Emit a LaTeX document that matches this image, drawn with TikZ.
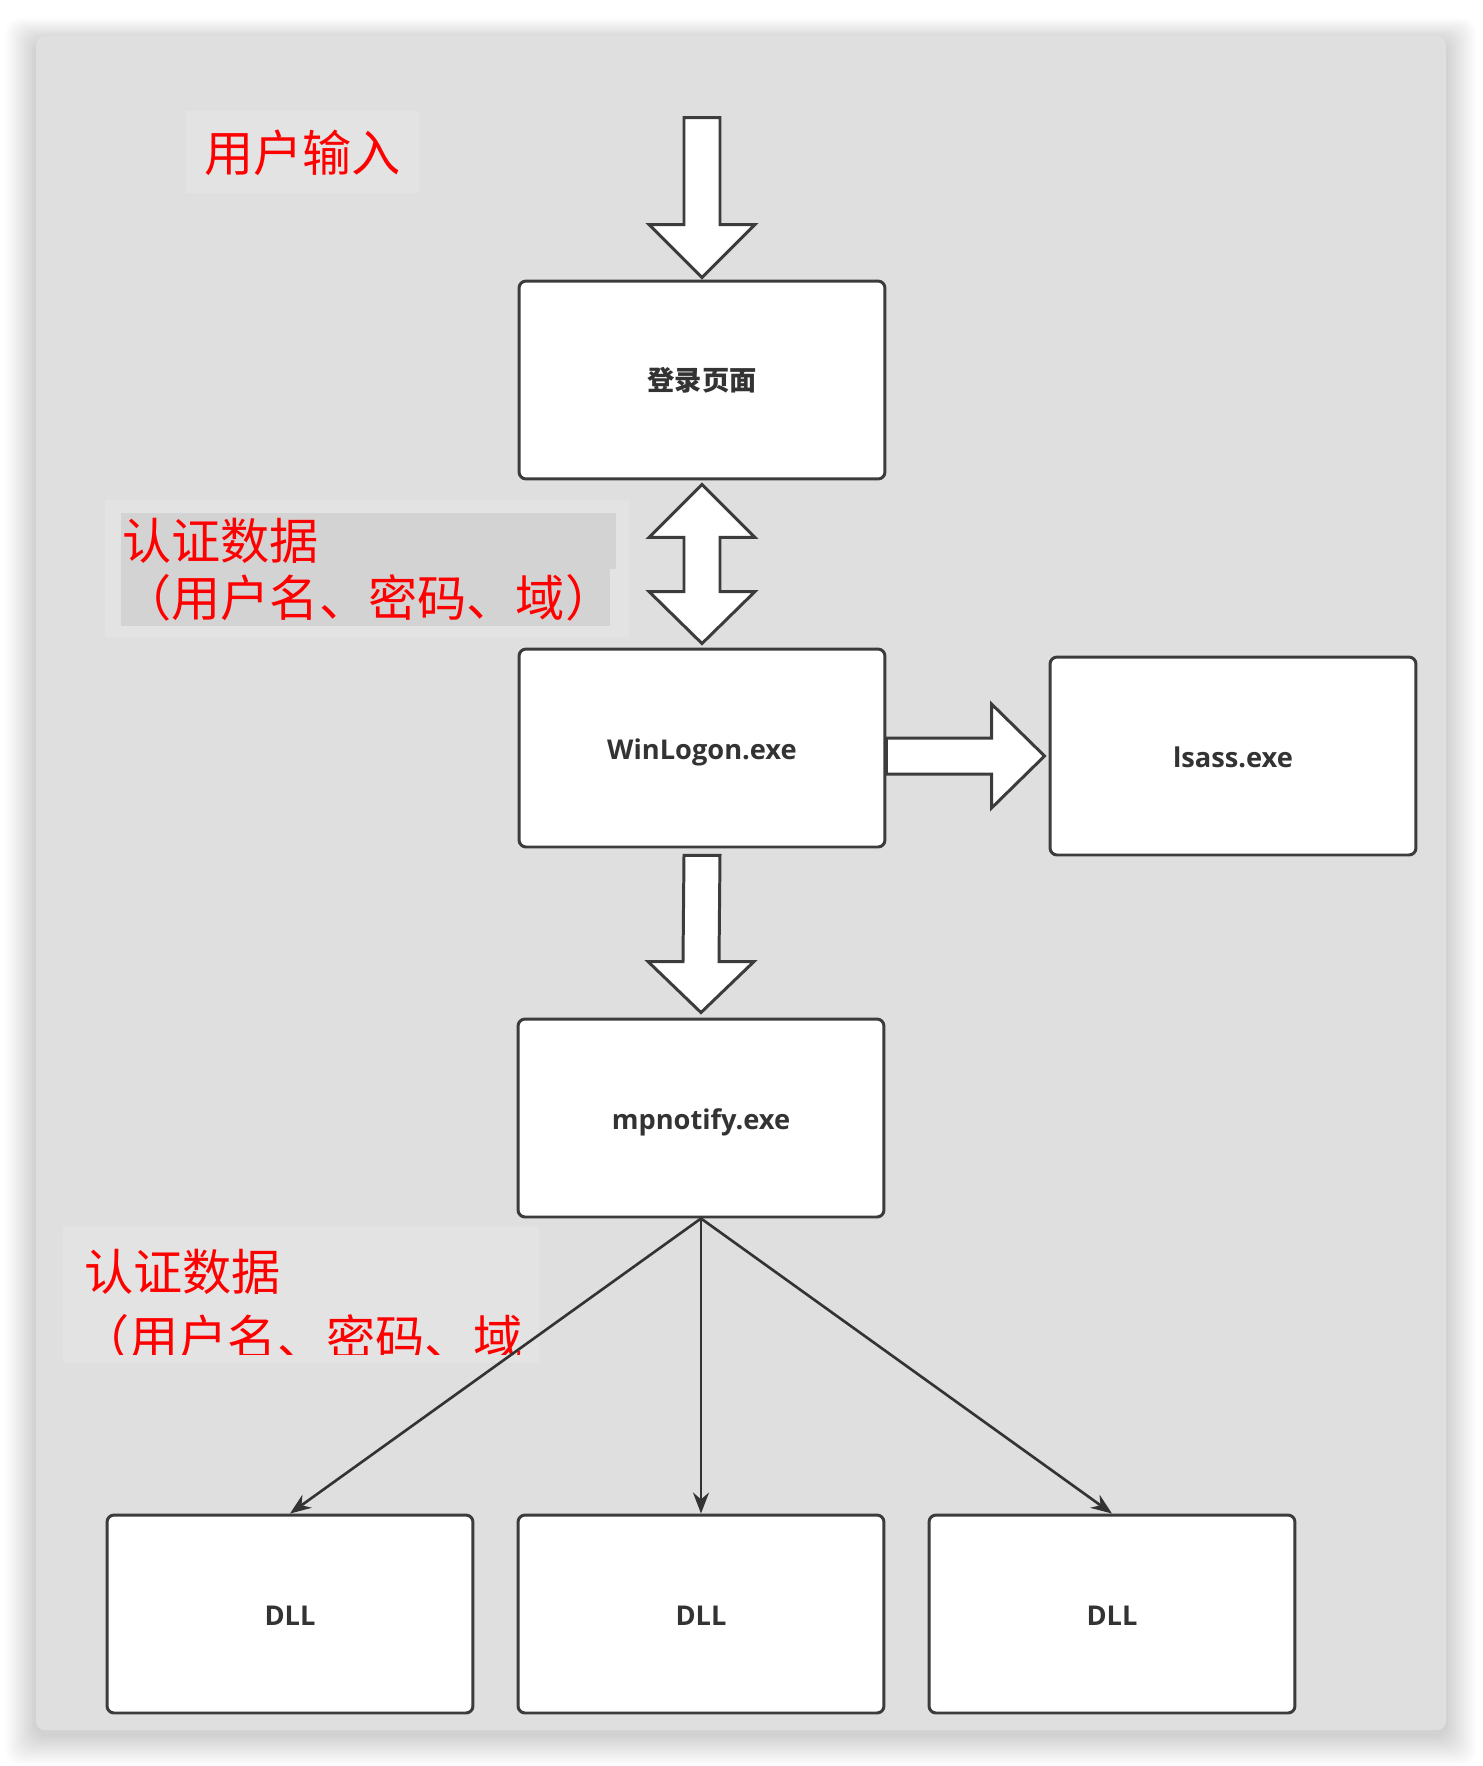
\documentclass[tikz,border=0pt]{standalone}
\usepackage{fontspec}
\setsansfont{Open Sans}
\newfontfamily\cjk{Noto Sans CJK SC}
\usetikzlibrary{arrows.meta,calc}
\definecolor{panel}{HTML}{DFDFDF}
\definecolor{boxline}{HTML}{3C3C3C}
\definecolor{boxtext}{HTML}{333333}
\definecolor{notebg}{HTML}{E3E3E3}
\definecolor{notedark}{HTML}{D3D3D3}
\tikzset{
  basebox/.style={draw=boxline,line width=1.7pt,fill=white,rounded corners=4pt,minimum width=7.32cm,minimum height=3.96cm,inner sep=0pt,text=boxtext},
  pbox/.style={basebox,text height=13pt,text depth=0pt,font=\sffamily\bfseries\fontsize{15.5}{18}\selectfont},
  cbox/.style={basebox,font=\cjk\bfseries\fontsize{15.5}{18}\selectfont},
  fat/.style={draw=boxline,line width=1.7pt,fill=white,line join=miter},
  darr/.style={-{Stealth[length=0.42cm,width=0.32cm]},draw=boxtext,line width=1.5pt},
  redtxt/.style={inner sep=0pt,anchor=west,text=red,font=\cjk\fontsize{28}{34}\selectfont}
}
\begin{document}
\begin{tikzpicture}[x=0.02cm,y=-0.02cm]
\useasboundingbox (0,0) rectangle (1482,1766);
\fill[white] (0,0) rectangle (1482,1766);
% panel and its shadow
\foreach \i in {1,...,15}
  \fill[black,opacity=0.013,rounded corners=8pt] (36-2*\i,41-1.5*\i) rectangle (1446+2*\i,1735+2*\i);
\fill[panel,rounded corners=5pt] (36,36) rectangle (1446,1730);

% notes
\fill[notebg] (186,111) rectangle (419,193);
\node[redtxt] (input) at (204,153) {用户输入};

\fill[notebg] (105,500) rectangle (629,637);
\fill[notedark] (121,513) rectangle (616,569);
\fill[notedark] (121,569) rectangle (610,626);
\node[redtxt] (auth) at (122,541) {认证数据};
\node[redtxt] (authsub) at (122,598) {（用户名、密码、域）};

\fill[notebg] (63,1227) rectangle (539,1363);
\begin{scope}
\clip (63,1227) rectangle (539,1354);
\node[redtxt] (dllauth) at (84,1272) {认证数据};
\node[redtxt] (dllauthsub) at (80,1338) {（用户名、密码、域};
\end{scope}

% boxes
\node[cbox] (login) at (702,380) {登录页面};
\node[pbox] (winlogon) at (702,748) {WinLogon.exe};
\node[pbox] (lsass) at (1233,756) {lsass.exe};
\node[pbox] (mpnotify) at (701,1118) {mpnotify.exe};
\node[pbox] (dlla) at (290,1614) {DLL};
\node[pbox] (dllb) at (701,1614) {DLL};
\node[pbox] (dllc) at (1112,1614) {DLL};

% fat arrows
\coordinate (start) at ($(login.north)+(0,-162)$);
\draw[fat] ($(start)+(-18,0)$) -- ($(start)+(18,0)$) -- ($(login.north)+(18,-55)$)
  -- ($(login.north)+(53,-55)$) -- ($(login.north)+(0,-2)$) -- ($(login.north)+(-53,-55)$)
  -- ($(login.north)+(-18,-55)$) -- cycle;
\draw[fat] ($(login.south)+(0,4)$) -- ($(login.south)+(53,57)$) -- ($(login.south)+(18,57)$)
  -- ($(winlogon.north)+(18,-56)$) -- ($(winlogon.north)+(53,-56)$) -- ($(winlogon.north)+(0,-4)$)
  -- ($(winlogon.north)+(-53,-56)$) -- ($(winlogon.north)+(-18,-56)$) -- ($(login.south)+(-18,57)$)
  -- ($(login.south)+(-53,57)$) -- cycle;
\draw[fat] ($(winlogon.south)+(-18,7)$) -- ($(winlogon.south)+(18,7)$) -- ($(mpnotify.north)+(18,-56)$)
  -- ($(mpnotify.north)+(53,-56)$) -- ($(mpnotify.north)+(0,-5)$) -- ($(mpnotify.north)+(-53,-56)$)
  -- ($(mpnotify.north)+(-18,-56)$) -- cycle;
\coordinate (side) at (winlogon.east |- lsass.west);
\draw[fat] ($(side)+(0,-18)$) -- ($(lsass.west)+(-57,-18)$) -- ($(lsass.west)+(-57,-52)$)
  -- ($(lsass.west)+(-4,0)$) -- ($(lsass.west)+(-57,52)$) -- ($(lsass.west)+(-57,18)$)
  -- ($(side)+(0,18)$) -- cycle;

% thin arrows
\draw[darr] (mpnotify.south) -- (dlla.north);
\draw[darr] (mpnotify.south) -- (dllb.north);
\draw[darr] (mpnotify.south) -- (dllc.north);
\end{tikzpicture}
\end{document}
